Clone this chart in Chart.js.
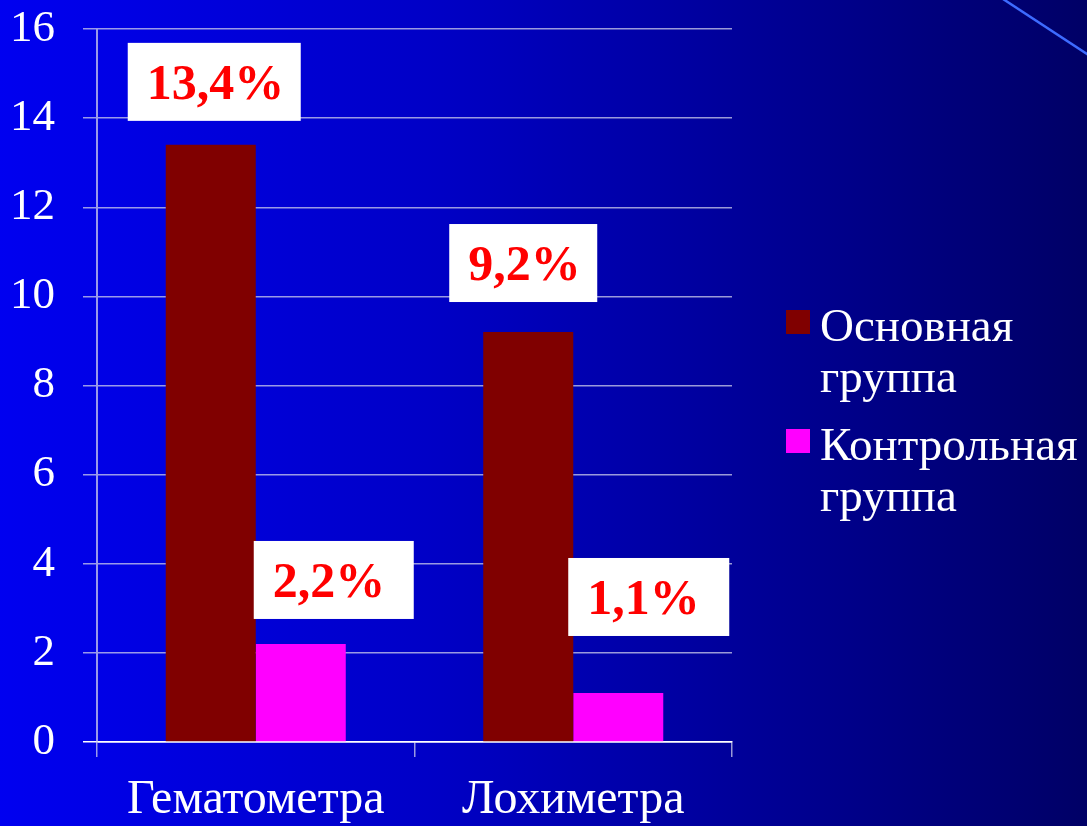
<!DOCTYPE html>
<html>
<head>
<meta charset="utf-8">
<script src="https://cdn.jsdelivr.net/npm/chart.js@4.4.1/dist/chart.umd.min.js"></script>
<style>
  html, body { margin: 0; padding: 0; background: #0000a0; overflow: hidden; }
  canvas { display: block; }
</style>
</head>
<body>
<canvas id="chart" width="1087" height="826"></canvas>
<script>
const categories = ["Гематометра", "Лохиметра"];
const mainGroup = [13.4, 9.2];
const controlGroup = [2.2, 1.1];
const seriesNames = [["Основная", "группа"], ["Контрольная", "группа"]];
const yMax = 16;
const yStep = 2;

const SERIF = "'Liberation Serif', 'Times New Roman', serif";
const GRID = "rgba(205, 205, 235, 0.75)";

// where each white value box sits relative to its bar (left edge / top)
const boxPlacement = [
  [{ dx: -38, dy: -24, w: 173 }, { dx: -34, dy: -30, w: 148 }],
  [{ dx: -2, dy: -25, w: 160 }, { dx: -5, dy: -57, w: 161 }],
];

function formatPct(v) {
  return `${v.toFixed(1).replace(".", ",")}%`;
}

const backdrop = {
  id: "backdrop",
  beforeDraw(chart) {
    const { ctx, width, height } = chart;
    const g = ctx.createLinearGradient(0, 0, width, 0);
    g.addColorStop(0, "#0000f0");
    g.addColorStop(0.4, "#0000c6");
    g.addColorStop(1, "#000066");
    ctx.save();
    ctx.fillStyle = g;
    ctx.fillRect(0, 0, width, height);
    ctx.strokeStyle = "#3d6bff";
    ctx.lineWidth = 2.5;
    ctx.beginPath();
    ctx.moveTo(1003, -1);
    ctx.lineTo(1090, 56);
    ctx.stroke();
    ctx.restore();
  },
};

const valueBoxes = {
  id: "valueBoxes",
  afterDatasetsDraw(chart) {
    const { ctx } = chart;
    ctx.save();
    chart.data.datasets.forEach((ds, di) => {
      chart.getDatasetMeta(di).data.forEach((bar, i) => {
        const p = boxPlacement[di][i];
        const bx = bar.x - bar.width / 2 + p.dx;
        const by = bar.y + p.dy - 78;
        ctx.fillStyle = "#ffffff";
        ctx.fillRect(bx, by, p.w, 78);
        ctx.fillStyle = "#ff0000";
        ctx.font = `bold 50px ${SERIF}`;
        ctx.textBaseline = "alphabetic";
        ctx.textAlign = "left";
        ctx.fillText(formatPct(ds.data[i]), bx + 19, by + 56);
      });
    });
    ctx.restore();
  },
};

const sideLegend = {
  id: "sideLegend",
  afterDraw(chart) {
    const { ctx } = chart;
    const x = 786;
    let base = 341;
    ctx.save();
    ctx.font = `47px ${SERIF}`;
    ctx.textBaseline = "alphabetic";
    ctx.textAlign = "left";
    chart.data.datasets.forEach((ds) => {
      ctx.fillStyle = ds.backgroundColor;
      ctx.fillRect(x, base - 31, 24, 24);
      ctx.fillStyle = "#ffffff";
      ds.label.forEach((line, li) => {
        ctx.fillText(line, x + 34, base + li * 51);
      });
      base += (ds.label.length - 1) * 51 + 68;
    });
    ctx.restore();
  },
};

new Chart(document.getElementById("chart"), {
  type: "bar",
  data: {
    labels: categories,
    datasets: [
      { label: seriesNames[0], data: mainGroup, backgroundColor: "#800000" },
      { label: seriesNames[1], data: controlGroup, backgroundColor: "#ff00ff" },
    ],
  },
  options: {
    responsive: false,
    devicePixelRatio: 1,
    animation: false,
    categoryPercentage: 0.567,
    barPercentage: 1,
    layout: { padding: { top: 0, right: 355, left: 0, bottom: 0 } },
    plugins: {
      legend: { display: false },
      tooltip: { enabled: false },
    },
    scales: {
      x: {
        grid: {
          offset: true,
          drawOnChartArea: false,
          drawTicks: true,
          tickLength: 15,
          color: GRID,
          lineWidth: 1.5,
        },
        border: { color: "#ffffff", width: 1.5 },
        ticks: {
          color: "#ffffff",
          font: { family: SERIF, size: 48 },
          padding: 15,
        },
        afterFit(scale) {
          scale.height = 84;
        },
      },
      y: {
        min: 0,
        max: yMax,
        ticks: {
          stepSize: yStep,
          color: "#ffffff",
          font: { family: SERIF, size: 45 },
          padding: 28,
        },
        grid: {
          color: (c) => (c.tick && c.tick.value === 0 ? "#ffffff" : GRID),
          lineWidth: 1.5,
          tickLength: 14,
        },
        border: { color: GRID, width: 2 },
        afterFit(scale) {
          scale.width = 97;
          scale.paddingTop = 29;
          scale.paddingBottom = 0;
        },
      },
    },
  },
  plugins: [backdrop, valueBoxes, sideLegend],
});
</script>
</body>
</html>
